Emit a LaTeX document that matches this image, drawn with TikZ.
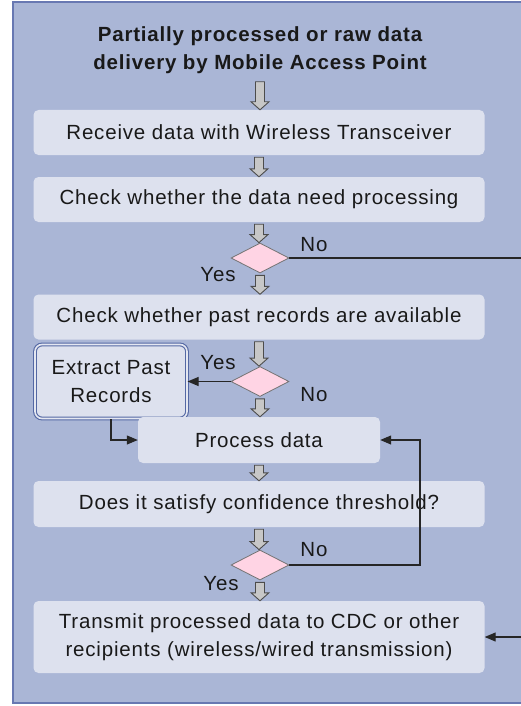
\documentclass[tikz,border=0pt]{standalone}
\usepackage{fontspec}
\setmainfont{Liberation Sans}[LetterSpace=4]
\usepackage{tikz}
\usetikzlibrary{arrows.meta,positioning,shapes.geometric,calc}
\definecolor{panelblue}{RGB}{170,182,214}
\definecolor{paneledge}{RGB}{104,120,178}
\definecolor{boxfill}{RGB}{221,225,238}
\definecolor{diampink}{RGB}{255,212,228}
\definecolor{extedge}{RGB}{84,104,164}
\definecolor{darktext}{RGB}{25,25,25}
\newcommand{\flowfont}{\fontsize{20.5}{28}\selectfont}
% hollow grey block arrow pointing down, from #1 to #2
\newcommand{\hollowarrow}[2]{%
  \filldraw[hollow] let \p1=(#1), \p2=(#2) in
    (\x1-4.5pt,\y1-2pt) -- (\x1+4.5pt,\y1-2pt) -- (\x1+4.5pt,\y2+8pt)
    -- (\x1+9pt,\y2+8pt) -- (\x1,\y2) -- (\x1-9pt,\y2+8pt)
    -- (\x1-4.5pt,\y2+8pt) -- cycle;}
\tikzset{
  procbox/.style={rectangle,rounded corners=5pt,fill=boxfill,inner sep=0pt,
    minimum width=451pt,minimum height=45pt,align=center,
    font=\flowfont,text=darktext},
  decision/.style={diamond,fill=diampink,draw=black!55,line width=0.8pt,
    minimum width=58pt,minimum height=30pt,inner sep=0pt},
  extbox/.style={rectangle,rounded corners=7pt,fill=boxfill,draw=extedge,
    double=boxfill!80!white,double distance=1.6pt,line width=1.1pt,
    minimum width=152pt,minimum height=74pt,align=center,
    font=\flowfont,text=darktext},
  hollow/.style={fill=black!22,draw=black!70,line width=0.9pt,line join=miter},
  flowline/.style={draw=black!85,line width=1.1pt,
    -{Triangle[length=11pt,width=9pt]}},
  lbl/.style={font=\flowfont,text=darktext,inner sep=0pt}
}

\begin{document}
\begin{tikzpicture}[x=1pt,y=-1pt]
  \useasboundingbox (0,0) rectangle (521,706);
  \clip (0,0) rectangle (521,706);
  % --- background panel ---------------------------------------------------
  \fill[white] (0,0) rectangle (521,706);
  \draw[fill=panelblue,draw=paneledge,line width=1.5pt] (13,2) rectangle (545,703);

  % --- steps ---------------------------------------------------------------
  \node[font=\bfseries\flowfont,text=darktext,align=center,inner sep=6pt]
    (title) at (260,50) {Partially processed or raw data\\delivery by Mobile Access Point};
  \node[procbox] (recv) at (259,132.5) {Receive data with Wireless Transceiver};
  \node[procbox] (needproc) at (259,199.5) {Check whether the data need processing};
  \node[decision] (d1) at (260,258) {};
  \node[procbox] (past) at (259,317) {Check whether past records are available};
  \node[decision] (d2) at (260,381.5) {};
  \node[extbox] (ext) at (111,381.5) {Extract Past\\Records};
  \node[procbox,minimum width=242pt,minimum height=46pt] (proc) at (259,440) {Process data};
  \node[procbox,minimum height=46pt] (conf) at (259,504) {Does it satisfy confidence threshold?};
  \node[decision] (d3) at (260,565) {};
  \node[procbox,minimum height=72pt] (send) at (259,637)
    {Transmit processed data to CDC or other\\recipients (wireless/wired transmission)};

  % --- yes / no labels -----------------------------------------------------
  \node[lbl] (no1) at (314,245) {No};
  \node[lbl] (yes1) at (218,275) {Yes};
  \node[lbl] (yes2) at (218,363) {Yes};
  \node[lbl] (no2) at (314,395) {No};
  \node[lbl] (no3) at (314,550) {No};
  \node[lbl] (yes3) at (221,584) {Yes};

  % --- block arrows --------------------------------------------------------
  \hollowarrow{title.south}{recv.north}
  \hollowarrow{recv.south}{needproc.north}
  \hollowarrow{needproc.south}{d1.north}
  \hollowarrow{d1.south}{past.north}
  \hollowarrow{past.south}{d2.north}
  \hollowarrow{d2.south}{proc.north}
  \hollowarrow{proc.south}{conf.north}
  \hollowarrow{conf.south}{d3.north}
  \hollowarrow{d3.south}{send.north}

  % --- connectors ----------------------------------------------------------
  \coordinate (farright) at (535,0);
  \coordinate (loopback) at (420,0);
  \draw[flowline] (d1.east) -- (d1.east -| farright) |- (send.east);
  \draw[flowline] (d2.west) -- (ext.east);
  \draw[flowline] (ext.south) |- (proc.west);
  \draw[flowline] (d3.east) -- (d3.east -| loopback) |- (proc.east);
\end{tikzpicture}
\end{document}
